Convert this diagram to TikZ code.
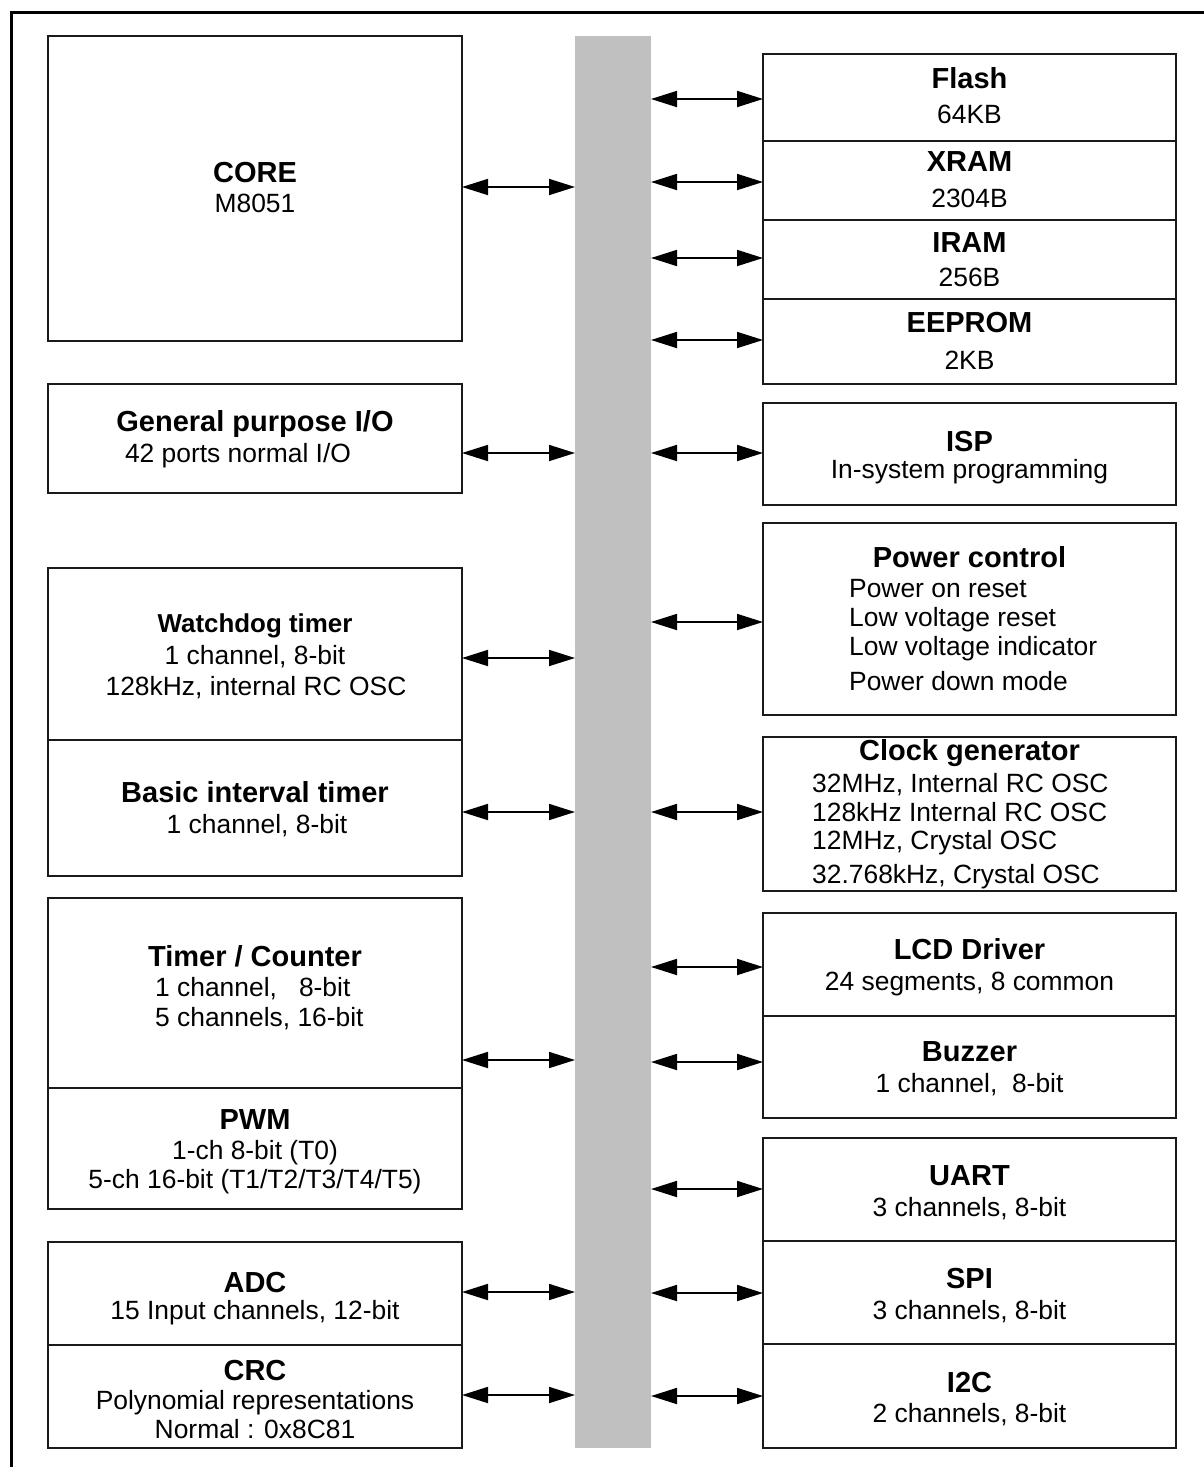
\documentclass[tikz,border=0pt]{standalone}
\usepackage{fontspec}
\setmainfont{Liberation Sans}
\usetikzlibrary{arrows.meta}
\definecolor{busgray}{RGB}{192,192,192}
\definecolor{edge}{RGB}{26,26,26}
\begin{document}
\begin{tikzpicture}[x=1pt,y=-1pt,
  box/.style={draw=edge, line width=1.6pt, inner sep=0pt, outer sep=0pt},
  title/.style={font=\fontsize{29}{33}\selectfont\bfseries, inner sep=0pt, text height=20.8pt, text depth=0pt},
  smalltitle/.style={font=\fontsize{25.9}{30}\selectfont\bfseries, inner sep=0pt, text height=18.6pt, text depth=0pt},
  txt/.style={font=\fontsize{26.4}{31}\selectfont, inner sep=0pt, text height=18.9pt, text depth=0pt},
  link/.style={line width=1.8pt, {Triangle[length=26pt,width=16pt]}-{Triangle[length=26pt,width=16pt]}}]
\useasboundingbox (0,0) rectangle (1203,1467);
% outer frame
\draw[line width=3pt] (11,1470) -- (11,12) -- (1206,12);
% system bus
\node[fill=busgray, inner sep=0pt, outer sep=0pt, minimum width=76pt, minimum height=1412pt] (bus) at (613,742) {};

% left column blocks
\node[box, minimum width=414pt, minimum height=305pt] (core) at (255,188.5) {};
\node[box, minimum width=414pt, minimum height=109pt] (gpio) at (255,438.5) {};
\node[box, minimum width=414pt, minimum height=172pt] (wdt)  at (255,654) {};
\node[box, minimum width=414pt, minimum height=136pt] (bit)  at (255,808) {};
\node[box, minimum width=414pt, minimum height=190pt] (tc)   at (255,993) {};
\node[box, minimum width=414pt, minimum height=121pt] (pwm)  at (255,1148.5) {};
\node[box, minimum width=414pt, minimum height=103pt] (adc)  at (255,1293.5) {};
\node[box, minimum width=414pt, minimum height=103pt] (crc)  at (255,1396.5) {};

% right column blocks
\node[box, minimum width=413pt, minimum height=87pt]  (flash)  at (969.5,97.5) {};
\node[box, minimum width=413pt, minimum height=79pt]  (xram)   at (969.5,180.5) {};
\node[box, minimum width=413pt, minimum height=79pt]  (iram)   at (969.5,259.5) {};
\node[box, minimum width=413pt, minimum height=85pt]  (eeprom) at (969.5,341.5) {};
\node[box, minimum width=413pt, minimum height=102pt] (isp)    at (969.5,454) {};
\node[box, minimum width=413pt, minimum height=192pt] (pwr)    at (969.5,619) {};
\node[box, minimum width=413pt, minimum height=154pt] (clk)    at (969.5,814) {};
\node[box, minimum width=413pt, minimum height=103pt] (lcd)    at (969.5,964.5) {};
\node[box, minimum width=413pt, minimum height=102pt] (buz)    at (969.5,1067) {};
\node[box, minimum width=413pt, minimum height=103pt] (uart)   at (969.5,1189.5) {};
\node[box, minimum width=413pt, minimum height=103pt] (spi)    at (969.5,1292.5) {};
\node[box, minimum width=413pt, minimum height=104pt] (iic)    at (969.5,1396) {};

% left column labels
\node[title] (coreT) at (255,172) {CORE};
\node[txt]   (coreS) at (255,203) {M8051};
\node[title] (gpioT) at (255,421) {General purpose I/O};
\node[txt]   (gpioS) at (238,453) {42 ports normal I/O};
\node[smalltitle] (wdtT) at (255,623) {Watchdog timer};
\node[txt]   (wdtS1) at (255,655) {1 channel, 8-bit};
\node[txt]   (wdtS2) at (256,686) {128kHz, internal RC OSC};
\node[title] (bitT)  at (255,792) {Basic interval timer};
\node[txt]   (bitS)  at (257,824) {1 channel, 8-bit};
\node[title] (tcT)   at (255,956) {Timer / Counter};
\node[txt, anchor=west] (tcS1) at (155,987) {1 channel,\ \ \ 8-bit};
\node[txt, anchor=west] (tcS2) at (155,1017) {5 channels, 16-bit};
\node[title] (pwmT)  at (255,1119) {PWM};
\node[txt]   (pwmS1) at (255,1150) {1-ch 8-bit (T0)};
\node[txt]   (pwmS2) at (255,1179) {5-ch 16-bit (T1/T2/T3/T4/T5)};
\node[title] (adcT)  at (255,1282) {ADC};
\node[txt]   (adcS)  at (255,1310) {15 Input channels, 12-bit};
\node[title] (crcT)  at (255,1370) {CRC};
\node[txt]   (crcS1) at (255,1400) {Polynomial representations};
\node[txt]   (crcS2) at (255,1429) {Normal : 0x8C81};

% right column labels
\node[title] (flashT) at (969.5,78)  {Flash};
\node[txt]   (flashS) at (969.5,114) {64KB};
\node[title] (xramT)  at (969.5,161) {XRAM};
\node[txt]   (xramS)  at (969.5,198) {2304B};
\node[title] (iramT)  at (969.5,242) {IRAM};
\node[txt]   (iramS)  at (969.5,277) {256B};
\node[title] (eepT)   at (969.5,322) {EEPROM};
\node[txt]   (eepS)   at (969.5,360) {2KB};
\node[title] (ispT)   at (969.5,441) {ISP};
\node[txt]   (ispS)   at (969.5,469) {In-system programming};
\node[title] (pwrT)   at (969.5,557) {Power control};
\node[txt, anchor=west] (pwrS1) at (849,588) {Power on reset};
\node[txt, anchor=west] (pwrS2) at (849,617) {Low voltage reset};
\node[txt, anchor=west] (pwrS3) at (849,646) {Low voltage indicator};
\node[txt, anchor=west] (pwrS4) at (849,681) {Power down mode};
\node[title] (clkT)   at (969.5,750) {Clock generator};
\node[txt, anchor=west] (clkS1) at (812,783) {32MHz, Internal RC OSC};
\node[txt, anchor=west] (clkS2) at (812,812) {128kHz Internal RC OSC};
\node[txt, anchor=west] (clkS3) at (812,840) {12MHz, Crystal OSC};
\node[txt, anchor=west] (clkS4) at (812,874) {32.768kHz, Crystal OSC};
\node[title] (lcdT)   at (969.5,949)  {LCD Driver};
\node[txt]   (lcdS)   at (969.5,981)  {24 segments, 8 common};
\node[title] (buzT)   at (969.5,1051) {Buzzer};
\node[txt]   (buzS)   at (969.5,1083) {1 channel,\ \ 8-bit};
\node[title] (uartT)  at (969.5,1175) {UART};
\node[txt]   (uartS)  at (969.5,1207) {3 channels, 8-bit};
\node[title] (spiT)   at (969.5,1278) {SPI};
\node[txt]   (spiS)   at (969.5,1310) {3 channels, 8-bit};
\node[title] (iicT)   at (969.5,1382) {I2C};
\node[txt]   (iicS)   at (969.5,1413) {2 channels, 8-bit};

% bus connections, left side
\foreach \n/\y in {core/187, gpio/453, wdt/658, bit/812, tc/1060, adc/1292, crc/1395}
  \draw[link] (\n.east |- 0,\y) -- (bus.west |- 0,\y);
% bus connections, right side
\foreach \n/\y in {flash/99, xram/182, iram/258, eeprom/340, isp/453, pwr/622, clk/812,
                   lcd/967, buz/1062, uart/1189, spi/1293, iic/1396}
  \draw[link] (bus.east |- 0,\y) -- (\n.west |- 0,\y);
\end{tikzpicture}
\end{document}
